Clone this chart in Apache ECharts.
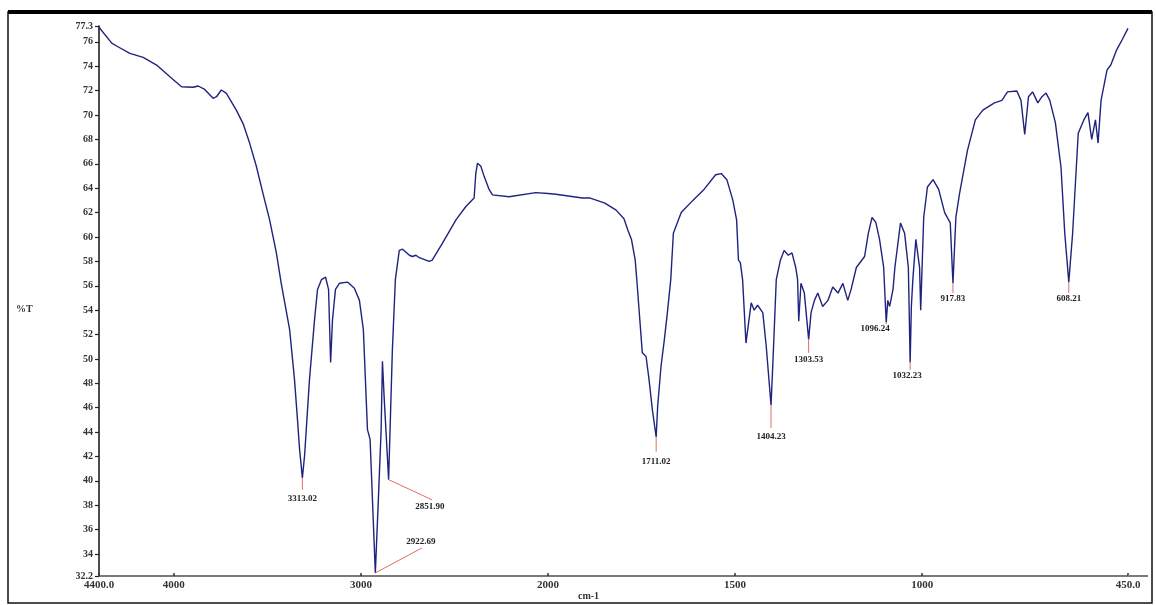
<!DOCTYPE html>
<html>
<head>
<meta charset="utf-8">
<script src="https://cdn.jsdelivr.net/npm/echarts@6/dist/echarts.min.js"></script>
<style>html,body{margin:0;padding:0;background:#fff}#c{width:1156px;height:605px}</style>
</head>
<body>
<div id="c"></div>
<script>
// Wavenumber (cm-1) and transmittance (%T) of the spectrum trace
const wavenumbers = [4400,4332,4306,4235,4164,4092,4021,3959,3897,3870,3835,3790,3772,3746,3719,3666,3630,3595,3559,3524,3488,3452,3426,3381,3355,3339,3328,3313,3301,3275,3248,3232,3211,3189,3173,3162,3152,3136,3115,3072,3035,3008,2987,2965,2951,2923,2907,2892,2885,2875,2852,2832,2816,2795,2777,2741,2725,2706,2688,2635,2619,2564,2492,2439,2395,2386,2377,2359,2341,2315,2297,2208,2066,2000,1979,1908,1889,1848,1818,1797,1787,1777,1767,1762,1748,1738,1730,1721,1711,1707,1698,1689,1681,1672,1665,1644,1613,1583,1552,1537,1522,1506,1496,1491,1486,1480,1471,1457,1449,1440,1426,1417,1404,1399,1390,1379,1369,1358,1348,1338,1333,1330,1324,1315,1303.5,1297,1288,1279,1266,1252,1239,1225,1212,1199,1190,1176,1154,1144,1134,1124,1114,1103,1096.2,1092,1087,1078,1073,1058,1047,1037,1032.2,1029,1025,1017,1007,1004,996,986,971,956,940,925,917.8,910,900,879,858,838,807,787,772,747,736,726,716,705,691,680,669,659,644,629,619,608.2,598,583,568,557,547,537,530,522,506,496,481,466,450];
const transmittance = [77.2,75.9,75.66,75.06,74.73,74.1,73.14,72.32,72.28,72.38,72.1,71.37,71.5,72.05,71.78,70.4,69.3,67.7,65.8,63.6,61.4,58.7,56.2,52.4,48.3,45.0,42.6,40.25,42.1,48.3,53.2,55.7,56.5,56.7,55.7,49.7,53.2,55.7,56.2,56.3,55.8,54.8,52.4,44.2,43.4,32.45,38.4,44.2,49.8,46.6,40.1,50.7,56.5,58.9,59.0,58.5,58.4,58.5,58.3,58.0,58.1,59.5,61.4,62.5,63.2,65.2,66.05,65.8,64.95,63.9,63.45,63.3,63.64,63.57,63.5,63.2,63.2,62.77,62.2,61.5,60.6,59.8,58.1,56.2,50.5,50.2,48.3,45.8,43.6,46.1,49.4,51.6,53.8,56.5,60.3,62.0,63.0,63.9,65.1,65.2,64.7,63.0,61.4,58.1,57.9,56.5,51.3,54.6,54.0,54.4,53.8,51.1,46.2,49.7,56.5,58.1,58.9,58.5,58.7,57.5,56.5,53.1,56.2,55.4,51.6,53.8,54.8,55.4,54.3,54.8,55.9,55.4,56.2,54.8,55.7,57.5,58.4,60.3,61.6,61.2,59.8,57.5,53.0,54.8,54.3,55.7,57.5,61.15,60.3,57.5,49.7,54.3,56.5,59.8,57.5,54.0,61.6,64.1,64.7,63.9,62.0,61.15,56.2,61.6,63.6,67.1,69.6,70.4,71.0,71.2,71.9,71.97,71.2,68.4,71.5,71.9,71.0,71.5,71.8,71.2,69.35,65.7,60.3,56.3,60.3,68.5,69.6,70.2,68.0,69.6,67.7,71.2,73.7,74.1,75.3,76.15,77.1];

// Axis tick labels
const xTickWavenumbers = [4400,4000,3000,2000,1500,1000,450];
const xTickLabels = ['4400.0','4000','3000','2000','1500','1000','450.0'];
const yTickValues = [32.2,34,36,38,40,42,44,46,48,50,52,54,56,58,60,62,64,66,68,70,72,74,76,77.3];
const yTickLabels = ['32.2','34','36','38','40','42','44','46','48','50','52','54','56','58','60','62','64','66','68','70','72','74','76','77.3'];

// Peak annotations: label text, trough position, leader-line end, text centre
const peakLabels = ['3313.02','2922.69','2851.90','1711.02','1404.23','1303.53','1096.24','1032.23','917.83','608.21'];
const peakWn     = [3313, 2923, 2852, 1711, 1404, 1303.5, 1096.2, 1032.2, 917.8, 608.2];
const peakT      = [40.25, 32.45, 40.1, 43.6, 46.2, 51.6, 53.0, 49.7, 56.2, 56.3];
const lineEndWn  = [3313, 2674, 2620, 1711, 1404, 1303.5, 1096.2, 1032.2, 917.8, 608.2];
const lineEndT   = [39.27, 34.5, 38.45, 42.4, 44.35, 50.5, 52.85, 49.1, 55.4, 55.4];
const textWn     = [3313, 2679, 2631, 1711, 1404, 1303.5, 1126, 1040, 917.8, 608.2];
const textT      = [38.5, 35.0, 37.9, 41.56, 43.6, 49.9, 52.5, 48.6, 54.9, 54.9];

// Piecewise wavenumber scale (doubled scale below 2000 cm-1)
function tx(w){ return w >= 2000 ? (4400 - w) : 2400 + (2000 - w) * 2; }
function inv(t){ return t <= 2400 ? 4400 - t : 2000 - (t - 2400) / 2; }

const seriesData = wavenumbers.map((w,i)=>[tx(w), transmittance[i]]);
const xTickPos = xTickWavenumbers.map(tx);
const annData = peakLabels.map((s,i)=>[tx(peakWn[i]), peakT[i], tx(lineEndWn[i]), lineEndT[i], tx(textWn[i]), textT[i], i]);

const font = '"Liberation Serif", "DejaVu Serif", serif';
const chart = echarts.init(document.getElementById('c'), null, {renderer:'canvas'});
chart.setOption({
  animation:false,
  backgroundColor:'#fff',
  grid:{left:99, right:28, top:26, bottom:29, containLabel:false},
  xAxis:{
    type:'value', min:0, max:5500,
    axisLine:{show:true, onZero:false, lineStyle:{color:'#7a7a7a', width:2}},
    axisTick:{show:true, inside:true, length:3, customValues:xTickPos, lineStyle:{color:'#333', width:1.5}},
    axisLabel:{show:true, customValues:xTickPos, margin:4, color:'#333', fontFamily:font, fontWeight:'bold', fontSize:11,
      formatter:function(v){ const i = xTickPos.indexOf(v); return i>=0 ? xTickLabels[i] : ''; }},
    splitLine:{show:false}
  },
  yAxis:{
    type:'value', min:32.2, max:77.3,
    axisLine:{show:true, lineStyle:{color:'#111', width:1.5}},
    axisTick:{show:true, inside:false, length:4, customValues:yTickValues, lineStyle:{color:'#222', width:1.2}},
    axisLabel:{show:true, customValues:yTickValues, margin:6, color:'#333', fontFamily:font, fontWeight:'bold', fontSize:10,
      formatter:function(v){ const i = yTickValues.indexOf(v); return i>=0 ? yTickLabels[i] : ''; }},
    splitLine:{show:false}
  },
  series:[
    {
      type:'line', data:seriesData, showSymbol:false, symbol:'none', smooth:false,
      lineStyle:{color:'#20237e', width:1.4}, z:3, clip:false
    },
    {
      type:'custom', data:annData, z:4,
      renderItem:function(params, api){
        const p = api.coord([api.value(0), api.value(1)]);
        const e = api.coord([api.value(2), api.value(3)]);
        const t = api.coord([api.value(4), api.value(5)]);
        const idx = api.value(6);
        return {type:'group', children:[
          {type:'line', shape:{x1:p[0], y1:p[1], x2:e[0], y2:e[1]}, style:{stroke:'#e26b6b', lineWidth:1}},
          {type:'text', style:{text:peakLabels[idx], x:t[0], y:t[1], align:'center', verticalAlign:'middle',
            font:'bold 9px ' + font, fill:'#222'}}
        ]};
      }
    }
  ],
  graphic:[
    {type:'rect', shape:{x:8, y:12, width:1144, height:591}, style:{fill:'none', stroke:'#111', lineWidth:1.5}, z:10},
    {type:'line', shape:{x1:8, y1:12, x2:1152, y2:12}, style:{stroke:'#000', lineWidth:4}, z:10},
    {type:'line', shape:{x1:1128, y1:576, x2:1148, y2:576}, style:{stroke:'#7a7a7a', lineWidth:2}, z:10},
    {type:'text', left:16, top:304, style:{text:'%T', font:'bold 10px ' + font, fill:'#333'}},
    {type:'text', left:578, top:591, style:{text:'cm-1', font:'bold 10px ' + font, fill:'#333'}}
  ]
});
</script>
</body>
</html>
